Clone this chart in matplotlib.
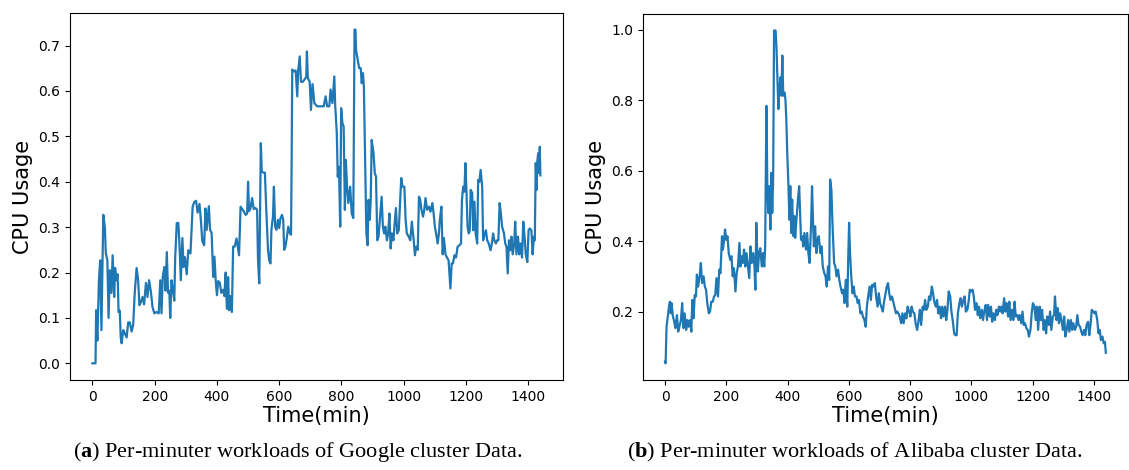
import matplotlib
matplotlib.use("Agg")
import matplotlib.pyplot as plt

# Google cluster, per-minute CPU usage
google_t = [0, 10, 12, 16, 21, 25, 29, 35, 40, 43, 48, 52, 56, 61, 65, 70, 73, 77, 81, 84,
            88, 91, 94, 99, 104, 110, 115, 120, 126, 131, 136, 142, 147, 151, 156, 161, 166,
            172, 177, 182, 188, 193, 199, 206, 213, 218, 222, 226, 231, 235, 239, 243, 247,
            250, 254, 259, 263, 266, 271, 276, 280, 284, 289, 293, 297, 303, 308, 315, 322,
            327, 333, 338, 344, 348, 353, 359, 363, 367, 374, 378, 383, 388, 392, 396, 400,
            404, 409, 414, 420, 424, 428, 432, 436, 439, 443, 448, 452, 457, 463, 467, 471,
            476, 481, 486, 492, 497, 500, 503, 508, 513, 518, 524, 529, 532, 536, 541, 544,
            549, 554, 559, 564, 568, 572, 575, 580, 583, 587, 591, 596, 600, 604, 609, 613,
            616, 620, 625, 629, 634, 638, 640, 642, 647, 653, 658, 661, 666, 670, 676, 682,
            687, 689, 692, 698, 702, 707, 713, 722, 733, 743, 749, 754, 761, 765, 771, 777,
            780, 785, 788, 792, 796, 799, 803, 807, 811, 814, 818, 822, 828, 833, 838, 842,
            845, 847, 852, 857, 862, 865, 869, 872, 876, 880, 884, 887, 891, 894, 897, 903,
            907, 911, 915, 919, 924, 929, 933, 937, 941, 946, 950, 954, 958, 962, 967, 970,
            975, 979, 984, 989, 992, 996, 1002, 1006, 1010, 1016, 1021, 1026, 1032, 1036,
            1040, 1045, 1049, 1053, 1057, 1062, 1066, 1070, 1075, 1081, 1086, 1092, 1096,
            1100, 1105, 1109, 1113, 1116, 1121, 1125, 1129, 1134, 1139, 1144, 1150, 1154,
            1158, 1163, 1168, 1173, 1179, 1184, 1187, 1191, 1195, 1198, 1201, 1205, 1209,
            1212, 1215, 1220, 1223, 1227, 1231, 1236, 1239, 1243, 1247, 1252, 1255, 1259,
            1264, 1268, 1273, 1279, 1283, 1287, 1291, 1296, 1300, 1304, 1308, 1312, 1316,
            1322, 1326, 1330, 1334, 1338, 1342, 1346, 1350, 1355, 1358, 1362, 1367, 1371,
            1375, 1380, 1384, 1388, 1392, 1397, 1401, 1405, 1410, 1414, 1418, 1421, 1424,
            1427, 1429, 1432, 1435, 1437, 1439]
google_cpu = [0.0, 0.0, 0.117, 0.05, 0.183, 0.227, 0.073, 0.327, 0.30, 0.243, 0.227, 0.10,
              0.205, 0.155, 0.238, 0.146, 0.21, 0.183, 0.196, 0.113, 0.116, 0.057, 0.044,
              0.073, 0.066, 0.057, 0.09, 0.09, 0.07, 0.085, 0.155, 0.21, 0.183, 0.128, 0.135,
              0.146, 0.13, 0.177, 0.146, 0.183, 0.157, 0.124, 0.11, 0.113, 0.11, 0.183, 0.11,
              0.19, 0.212, 0.16, 0.245, 0.155, 0.16, 0.10, 0.183, 0.16, 0.138, 0.234, 0.309,
              0.309, 0.257, 0.183, 0.276, 0.212, 0.234, 0.196, 0.249, 0.242, 0.345, 0.355,
              0.358, 0.332, 0.351, 0.319, 0.269, 0.26, 0.341, 0.294, 0.346, 0.294, 0.287,
              0.19, 0.235, 0.184, 0.15, 0.181, 0.178, 0.155, 0.162, 0.148, 0.2, 0.12, 0.19,
              0.117, 0.148, 0.113, 0.257, 0.257, 0.275, 0.257, 0.238, 0.345, 0.34, 0.335,
              0.327, 0.33, 0.40, 0.335, 0.342, 0.364, 0.34, 0.342, 0.338, 0.227, 0.176, 0.485,
              0.422, 0.42, 0.42, 0.33, 0.25, 0.227, 0.22, 0.294, 0.323, 0.389, 0.301, 0.294,
              0.316, 0.298, 0.319, 0.327, 0.316, 0.25, 0.257, 0.279, 0.301, 0.287, 0.283,
              0.45, 0.647, 0.643, 0.645, 0.588, 0.645, 0.676, 0.62, 0.62, 0.626, 0.631, 0.687,
              0.628, 0.62, 0.558, 0.615, 0.573, 0.566, 0.566, 0.566, 0.588, 0.566, 0.566,
              0.603, 0.573, 0.632, 0.566, 0.507, 0.411, 0.433, 0.301, 0.562, 0.529, 0.522,
              0.338, 0.448, 0.389, 0.353, 0.389, 0.33, 0.32, 0.735, 0.735, 0.69, 0.669, 0.65,
              0.65, 0.617, 0.639, 0.61, 0.448, 0.286, 0.26, 0.36, 0.316, 0.36, 0.492, 0.463,
              0.419, 0.411, 0.271, 0.279, 0.323, 0.367, 0.301, 0.286, 0.301, 0.271, 0.286,
              0.33, 0.253, 0.286, 0.271, 0.301, 0.342, 0.286, 0.293, 0.367, 0.408, 0.389,
              0.389, 0.316, 0.286, 0.279, 0.271, 0.312, 0.271, 0.238, 0.257, 0.25, 0.367,
              0.36, 0.338, 0.323, 0.338, 0.364, 0.338, 0.345, 0.334, 0.353, 0.33, 0.301,
              0.282, 0.264, 0.286, 0.316, 0.345, 0.24, 0.276, 0.24, 0.233, 0.227, 0.165, 0.22,
              0.22, 0.238, 0.233, 0.257, 0.26, 0.264, 0.36, 0.389, 0.378, 0.441, 0.389, 0.301,
              0.286, 0.293, 0.382, 0.375, 0.293, 0.356, 0.286, 0.264, 0.404, 0.4, 0.426,
              0.389, 0.271, 0.282, 0.293, 0.271, 0.264, 0.249, 0.264, 0.286, 0.271, 0.264,
              0.271, 0.271, 0.353, 0.33, 0.301, 0.286, 0.264, 0.257, 0.198, 0.271, 0.249,
              0.279, 0.24, 0.264, 0.312, 0.24, 0.279, 0.24, 0.264, 0.233, 0.312, 0.279, 0.24,
              0.223, 0.293, 0.297, 0.293, 0.24, 0.279, 0.271, 0.441, 0.382, 0.445, 0.463,
              0.419, 0.477, 0.414]

# Alibaba cluster, per-minute CPU usage
alibaba_t = [0, 2, 5, 9, 13, 16, 19, 21, 26, 30, 34, 39, 43, 47, 52, 56, 60, 64, 69, 73, 77,
             82, 86, 89, 93, 97, 101, 104, 108, 113, 117, 121, 126, 130, 134, 138, 143, 147,
             151, 156, 160, 164, 168, 173, 177, 181, 186, 189, 193, 196, 200, 204, 208, 213,
             217, 221, 225, 230, 234, 238, 243, 246, 250, 254, 258, 262, 266, 271, 275, 279,
             283, 288, 292, 295, 298, 303, 307, 311, 316, 320, 324, 327, 331, 334, 337, 340,
             344, 347, 350, 353, 356, 361, 364, 367, 370, 374, 377, 380, 383, 386, 390, 393,
             396, 399, 403, 406, 409, 412, 415, 419, 422, 425, 429, 434, 438, 441, 444, 448,
             451, 455, 460, 464, 468, 472, 477, 480, 483, 486, 490, 494, 498, 502, 507, 511,
             515, 520, 524, 528, 532, 536, 539, 543, 547, 552, 556, 560, 565, 569, 573, 578,
             582, 586, 590, 595, 598, 601, 604, 608, 612, 616, 620, 625, 629, 633, 638, 642,
             646, 651, 655, 659, 663, 668, 672, 676, 681, 685, 689, 694, 698, 702, 706, 711,
             715, 719, 724, 728, 732, 736, 741, 745, 749, 754, 758, 762, 766, 771, 775, 779,
             784, 788, 792, 797, 801, 805, 809, 814, 818, 823, 828, 832, 836, 841, 845, 849,
             853, 858, 862, 866, 871, 875, 879, 884, 888, 892, 896, 901, 905, 909, 914, 918,
             922, 926, 931, 935, 939, 944, 948, 952, 956, 961, 965, 969, 974, 978, 982, 987,
             991, 995, 999, 1004, 1008, 1012, 1017, 1021, 1025, 1029, 1034, 1038, 1042, 1047,
             1051, 1055, 1060, 1064, 1068, 1072, 1077, 1081, 1085, 1090, 1094, 1098, 1102,
             1107, 1111, 1115, 1120, 1124, 1128, 1133, 1137, 1141, 1145, 1150, 1154, 1158,
             1163, 1167, 1171, 1175, 1180, 1184, 1188, 1193, 1197, 1201, 1206, 1210, 1214,
             1218, 1223, 1227, 1231, 1236, 1240, 1244, 1248, 1253, 1257, 1261, 1266, 1270,
             1273, 1278, 1282, 1286, 1290, 1295, 1299, 1303, 1307, 1312, 1316, 1320, 1325,
             1329, 1333, 1338, 1342, 1346, 1350, 1355, 1359, 1363, 1368, 1372, 1376, 1381,
             1385, 1389, 1393, 1398, 1402, 1406, 1411, 1415, 1419, 1423, 1428, 1432, 1436, 1439]
alibaba_cpu = [0.058, 0.053, 0.157, 0.186, 0.214, 0.228, 0.195, 0.224, 0.186, 0.172, 0.153,
               0.19, 0.143, 0.157, 0.176, 0.224, 0.153, 0.195, 0.148, 0.176, 0.157, 0.176,
               0.143, 0.233, 0.181, 0.247, 0.243, 0.305, 0.271, 0.3, 0.338, 0.281, 0.3, 0.271,
               0.262, 0.224, 0.195, 0.2, 0.228, 0.228, 0.243, 0.247, 0.295, 0.243, 0.319,
               0.309, 0.414, 0.376, 0.404, 0.433, 0.404, 0.414, 0.366, 0.347, 0.357, 0.3,
               0.323, 0.257, 0.309, 0.328, 0.395, 0.328, 0.357, 0.338, 0.376, 0.328, 0.366,
               0.328, 0.295, 0.385, 0.338, 0.366, 0.328, 0.262, 0.452, 0.314, 0.366, 0.38,
               0.328, 0.366, 0.328, 0.385, 0.784, 0.556, 0.48, 0.556, 0.433, 0.594, 0.48,
               0.575, 0.998, 0.998, 0.946, 0.86, 0.775, 0.841, 0.865, 0.813, 0.927, 0.813,
               0.822, 0.803, 0.746, 0.651, 0.556, 0.461, 0.556, 0.423, 0.518, 0.414, 0.471,
               0.409, 0.461, 0.518, 0.556, 0.48, 0.404, 0.414, 0.385, 0.423, 0.376, 0.423,
               0.366, 0.338, 0.452, 0.556, 0.461, 0.385, 0.442, 0.366, 0.404, 0.414, 0.366,
               0.385, 0.328, 0.309, 0.3, 0.271, 0.328, 0.29, 0.575, 0.547, 0.442, 0.338, 0.328,
               0.3, 0.319, 0.29, 0.271, 0.252, 0.262, 0.224, 0.29, 0.214, 0.347, 0.452, 0.366,
               0.3, 0.252, 0.271, 0.243, 0.243, 0.224, 0.233, 0.195, 0.2, 0.186, 0.176, 0.157,
               0.214, 0.243, 0.271, 0.233, 0.276, 0.271, 0.281, 0.243, 0.214, 0.252, 0.224,
               0.214, 0.2, 0.228, 0.247, 0.271, 0.281, 0.252, 0.233, 0.243, 0.228, 0.214,
               0.195, 0.2, 0.195, 0.186, 0.167, 0.195, 0.167, 0.195, 0.181, 0.214, 0.2, 0.186,
               0.214, 0.2, 0.195, 0.167, 0.148, 0.176, 0.205, 0.162, 0.214, 0.205, 0.233,
               0.205, 0.214, 0.243, 0.233, 0.271, 0.252, 0.228, 0.214, 0.233, 0.195, 0.214,
               0.181, 0.214, 0.186, 0.214, 0.176, 0.205, 0.257, 0.243, 0.2, 0.176, 0.138,
               0.133, 0.133, 0.195, 0.224, 0.238, 0.214, 0.233, 0.243, 0.2, 0.205, 0.228,
               0.262, 0.257, 0.262, 0.243, 0.205, 0.224, 0.19, 0.214, 0.181, 0.205, 0.176,
               0.2, 0.219, 0.176, 0.219, 0.186, 0.214, 0.171, 0.195, 0.176, 0.205, 0.19,
               0.214, 0.2, 0.214, 0.195, 0.238, 0.2, 0.224, 0.186, 0.228, 0.176, 0.205, 0.176,
               0.228, 0.186, 0.19, 0.176, 0.19, 0.167, 0.2, 0.162, 0.167, 0.152, 0.148, 0.129,
               0.148, 0.195, 0.224, 0.214, 0.176, 0.214, 0.148, 0.214, 0.176, 0.205, 0.148,
               0.176, 0.138, 0.186, 0.162, 0.2, 0.148, 0.186, 0.19, 0.243, 0.176, 0.21, 0.167,
               0.195, 0.171, 0.148, 0.186, 0.129, 0.152, 0.176, 0.143, 0.176, 0.148, 0.167,
               0.148, 0.157, 0.19, 0.162, 0.157, 0.143, 0.133, 0.148, 0.133, 0.162, 0.171,
               0.133, 0.162, 0.205, 0.2, 0.195, 0.2, 0.176, 0.138, 0.148, 0.119, 0.129, 0.11,
               0.114, 0.083]

captions = [("a", "Per-minuter workloads of Google cluster Data."),
            ("b", "Per-minuter workloads of Alibaba cluster Data.")]

plt.rcParams["mathtext.fontset"] = "custom"
plt.rcParams["mathtext.rm"] = "Liberation Serif"
plt.rcParams["mathtext.bf"] = "Liberation Serif:bold"

fig = plt.figure(figsize=(11.29, 4.70), dpi=100)
ax1 = fig.add_axes([0.062, 0.1915, 0.4365, 0.781])
ax2 = fig.add_axes([0.5695, 0.1915, 0.4295, 0.779])

for ax, t, cpu in [(ax1, google_t, google_cpu), (ax2, alibaba_t, alibaba_cpu)]:
    ax.plot(t, cpu, color="#1f77b4", linewidth=1.6)
    ax.set_xlabel("Time(min)", fontsize=15, labelpad=2)
    ax.set_ylabel("CPU Usage", fontsize=15)
    ax.tick_params(labelsize=10)

# subfigure captions under each panel
for (letter, text), xc in zip(captions, [0.264, 0.757]):
    fig.text(xc, 0.012, r"($\mathbf{" + letter + r"}$) " + text, ha="center", va="bottom",
             fontsize=16, family="Liberation Serif")

fig.savefig("out.png", dpi=100)
